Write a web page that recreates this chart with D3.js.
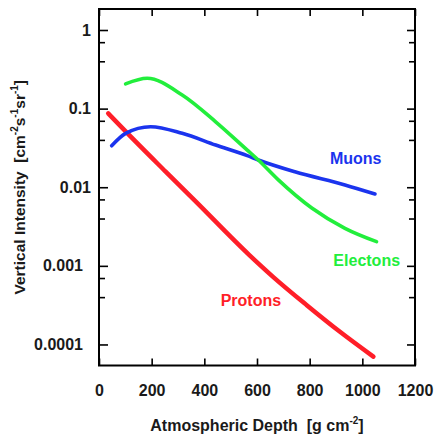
<!DOCTYPE html>
<html>
<head>
<meta charset="utf-8">
<script src="https://cdn.jsdelivr.net/npm/d3@7"></script>
<style>
  body { margin: 0; background: #fff; }
  text { font-family: "Liberation Sans", Arial, Helvetica, sans-serif; font-weight: bold; }
</style>
</head>
<body>
<div id="the_chart"></div>
<script>
// atmospheric depth (g/cm2) and vertical intensity
var protonDepth = [35, 101, 253, 367, 570, 662, 789, 915, 1042];
var protonFlux = [0.087, 0.0513, 0.0158, 0.0066, 0.00138, 0.00072, 0.000316, 0.000145, 0.00007];

var muonDepth = [48, 101, 196, 316, 443, 563, 605, 744, 934, 1048];
var muonFlux = [0.0337, 0.0485, 0.0589, 0.0485, 0.0344, 0.0252, 0.0222, 0.0157, 0.0107, 0.0082];

var electronDepth = [101, 183, 316, 443, 563, 605, 681, 808, 934, 1054];
var electronFlux = [0.206, 0.243, 0.149, 0.068, 0.0297, 0.0222, 0.0124, 0.00544, 0.0030, 0.00203];

var depthTicks = [0, 200, 400, 600, 800, 1000, 1200];
var fluxTicks = [1, 0.1, 0.01, 0.001, 0.0001];
var fluxMinorTicks = [0.7, 0.4, 0.07, 0.04, 0.007, 0.004, 0.0007, 0.0004];

var seriesNames = ["Protons", "Muons", "Electons"];
// where each name sits, in data units (depth, intensity)
var labelDepth = [462, 877, 890];
var labelFlux = [0.000308, 0.0197, 0.001];

gen_vis();

function gen_vis() {
    var w = 436;
    var h = 434;
    var margin = { top: 9, right: 21, bottom: 68.5, left: 99 };

    var svg = d3.select("#the_chart")
        .append("svg")
        .attr("width", w)
        .attr("height", h);

    var x = d3.scaleLinear()
        .domain([0, 1200])
        .range([margin.left, w - margin.right]);

    var y = d3.scaleLog()
        .domain([5.4e-5, 1.85])
        .range([h - margin.bottom, margin.top]);

    var colors = ["#ff1e28", "#1b34ee", "#22ee3c"];
    var widths = [4.5, 3.6, 3.6];

    var series = [
        d3.zip(protonDepth, protonFlux),
        d3.zip(muonDepth, muonFlux),
        d3.zip(electronDepth, electronFlux)
    ];

    var line = d3.line()
        .x(function (d) { return x(d[0]); })
        .y(function (d) { return y(d[1]); })
        .curve(d3.curveMonotoneX);

    // curves go first so the frame sits on top
    svg.selectAll("path.curve")
        .data(series)
        .enter()
        .append("path")
        .attr("class", "curve")
        .attr("d", line)
        .attr("fill", "none")
        .attr("stroke", function (d, i) { return colors[i]; })
        .attr("stroke-width", function (d, i) { return widths[i]; })
        .attr("stroke-linecap", "round")
        .attr("stroke-linejoin", "round");

    function styleAxis(g) {
        g.select(".domain").remove();
        g.selectAll("line").attr("stroke", "#000").attr("stroke-width", 1.6);
        g.attr("font-family", null).attr("font-size", 16);
        g.selectAll("text").attr("fill", "#1a1a1a");
    }

    // bottom and top
    svg.append("g")
        .attr("transform", "translate(0," + (h - margin.bottom) + ")")
        .call(d3.axisBottom(x).tickValues(depthTicks).tickSize(-7).tickPadding(19)
            .tickFormat(d3.format("d")))
        .call(styleAxis);

    svg.append("g")
        .attr("transform", "translate(0," + margin.top + ")")
        .call(d3.axisTop(x).tickValues(depthTicks).tickSize(-7).tickFormat(""))
        .call(styleAxis);

    // left, majors with labels then minors
    var left = svg.append("g")
        .attr("transform", "translate(" + margin.left + ",0)")
        .call(d3.axisLeft(y).tickValues(fluxTicks).tickSize(-9).tickPadding(8)
            .tickFormat(d3.format("~g")))
        .call(styleAxis);
    // the small labels sit a little further out in the original
    left.selectAll("text").attr("dx", function (d) { return d < 0.01 ? -8 : 0; });

    svg.append("g")
        .attr("transform", "translate(" + margin.left + ",0)")
        .call(d3.axisLeft(y).tickValues(fluxMinorTicks).tickSize(-6).tickFormat(""))
        .call(styleAxis);

    // right side mirrors the left
    svg.append("g")
        .attr("transform", "translate(" + (w - margin.right) + ",0)")
        .call(d3.axisRight(y).tickValues(fluxTicks).tickSize(-8).tickFormat(""))
        .call(styleAxis);

    svg.append("g")
        .attr("transform", "translate(" + (w - margin.right) + ",0)")
        .call(d3.axisRight(y).tickValues(fluxMinorTicks).tickSize(-6).tickFormat(""))
        .call(styleAxis);

    svg.append("rect")
        .attr("x", margin.left)
        .attr("y", margin.top)
        .attr("width", w - margin.left - margin.right)
        .attr("height", h - margin.top - margin.bottom)
        .attr("fill", "none")
        .attr("stroke", "#000")
        .attr("stroke-width", 2);

    // names next to the curves
    svg.selectAll("text.name")
        .data(seriesNames)
        .enter()
        .append("text")
        .attr("class", "name")
        .attr("x", function (d, i) { return x(labelDepth[i]); })
        .attr("y", function (d, i) { return y(labelFlux[i]); })
        .attr("font-size", 16)
        .attr("fill", function (d, i) { return colors[i]; })
        .text(function (d) { return d; });

    // x title
    var xt = svg.append("text")
        .attr("x", (margin.left + w - margin.right) / 2)
        .attr("y", 430.5)
        .attr("text-anchor", "middle")
        .attr("font-size", 16)
        .attr("fill", "#1a1a1a")
        .style("white-space", "pre");
    xt.append("tspan").text("Atmospheric Depth  [g cm");
    xt.append("tspan").attr("dy", -7).attr("font-size", 10).text("-2");
    xt.append("tspan").attr("dy", 7).text("]");

    // y title
    var yt = svg.append("text")
        .attr("transform", "translate(25," + ((margin.top + h - margin.bottom) / 2) + ") rotate(-90)")
        .attr("text-anchor", "middle")
        .attr("font-size", 15.5)
        .attr("fill", "#1a1a1a")
        .style("white-space", "pre");
    yt.append("tspan").text("Vertical Intensity  [cm");
    yt.append("tspan").attr("dy", -7).attr("font-size", 10).text("-2");
    yt.append("tspan").attr("dy", 7).text("s");
    yt.append("tspan").attr("dy", -7).attr("font-size", 10).text("-1");
    yt.append("tspan").attr("dy", 7).text("sr");
    yt.append("tspan").attr("dy", -7).attr("font-size", 10).text("-1");
    yt.append("tspan").attr("dy", 7).text("]");
}
</script>
</body>
</html>
